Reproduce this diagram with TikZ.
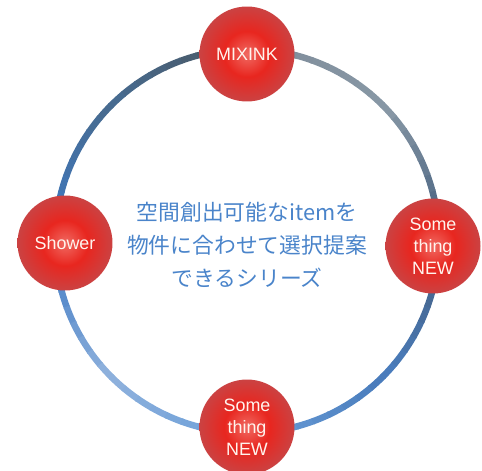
\documentclass[tikz,border=0pt]{standalone}
\usepackage{fontspec}
\setmainfont{Liberation Sans}
\newfontfamily\jpfont{Noto Sans CJK JP}
\usepackage{xcolor}
\definecolor{ring-slate}{HTML}{455F7E}
\definecolor{ring-grey}{HTML}{8797A5}
\definecolor{ring-ash}{HTML}{7E8C99}
\definecolor{ring-dark}{HTML}{4A5660}
\definecolor{ring-steel}{HTML}{476B90}
\definecolor{ring-blue}{HTML}{3E79C2}
\definecolor{ring-pale}{HTML}{8DB0DC}
\definecolor{ring-sky}{HTML}{6A9ED8}
\definecolor{ring-mid}{HTML}{4A7CBC}
\definecolor{ball-core}{HTML}{F06A62}
\definecolor{ball-red}{HTML}{E8261F}
\definecolor{ball-rim}{HTML}{CB4242}
\definecolor{ball-text}{HTML}{FFF4EE}
\definecolor{caption-blue}{HTML}{4A84CA}
\usepackage{tikz}
\pgfdeclareradialshading{ball-glow}{\pgfpoint{0bp}{0bp}}{color(0bp)=(ball-core); color(12bp)=(ball-red); color(25bp)=(ball-rim); color(50bp)=(ball-rim)}

\begin{document}
\begin{tikzpicture}[x=0.02cm, y=0.02cm,
    ring/.style={line width=0.13cm},
    ball/.style={circle, minimum size=1.9cm, inner sep=0pt, shading=ball-glow, text=ball-text, align=center, font=\fontsize{10.2}{12.5}\selectfont}]

    % Canvas
    \useasboundingbox (0, 0) rectangle (482, 470);
    \coordinate (hub) at (247, 229);

    % Ring
    \foreach \from/\cfrom/\cto in {0/ring-slate/ring-grey, 45/ring-grey/ring-ash, 90/ring-dark/ring-steel, 135/ring-steel/ring-blue, 180/ring-blue/ring-pale, 225/ring-pale/ring-sky, 270/ring-sky/ring-mid, 315/ring-mid/ring-slate}{
        \foreach \k in {0,...,8}{
            \pgfmathsetmacro{\start}{\from+5*\k}
            \pgfmathtruncatemacro{\mix}{100*\k/8}
            \colorlet{ring-seg}{\cto!\mix!\cfrom}
            \draw[ring, ring-seg, shift={(hub)}] (\start:192) arc[start angle=\start, delta angle=5.4, radius=192];
        }
    }

    % Balls
    \node[ball] (mixink) at (247, 416) {MIXINK};
    \node[ball] (shower) at (65, 227) {Shower};
    \node[ball] (new-right) at (433, 224) {Some\\thing\\NEW};
    \node[ball] (new-bottom) at (247, 43) {Some\\thing\\NEW};

    % Caption
    \node[text=caption-blue, align=center, font=\jpfont\fontsize{12.4}{18.7}\selectfont] (caption) at (247, 225) {空間創出可能なitemを\\物件に合わせて選択提案\\できるシリーズ};

\end{tikzpicture}
\end{document}
